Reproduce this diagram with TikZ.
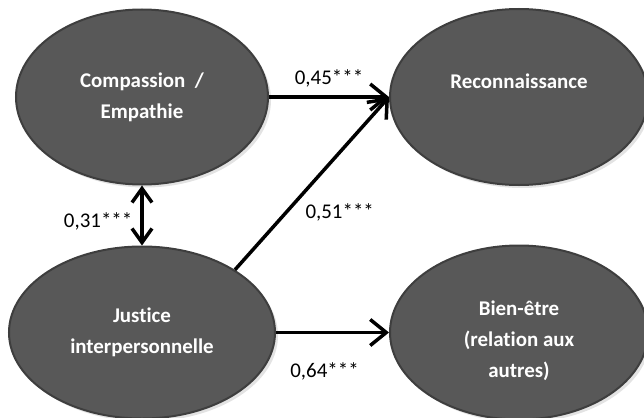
\documentclass[tikz,border=0pt]{standalone}
\usepackage{fontspec}
\setmainfont{Carlito}[Ligatures=NoCommon]
\usetikzlibrary{positioning,shapes.geometric,arrows.meta,shadows}
\definecolor{ovalgray}{RGB}{88,88,88}
\definecolor{ovaledge}{RGB}{62,62,62}
\tikzstyle{oval} = [ellipse,draw=ovaledge,line width=2bp,fill=ovalgray,text=white,align=center,inner sep=0pt,
  font=\fontsize{21}{31}\selectfont\bfseries,drop shadow={shadow xshift=3bp,shadow yshift=-3bp,opacity=.22}]
\tikzstyle{line} = [draw,line width=3.5bp,-{Straight Barb[length=16bp,width=26bp]}]
\tikzstyle{dline} = [draw,line width=3.5bp,{Straight Barb[length=14bp,width=20bp]}-{Straight Barb[length=14bp,width=20bp]}]
\tikzstyle{coef} = [font=\fontsize{21}{24}\selectfont,inner sep=2bp]
\begin{document}
\begin{tikzpicture}[x=1bp,y=1bp]
            \useasboundingbox (0,0) rectangle (644,417);
            \node[oval,minimum width=252bp,minimum height=175bp] (comp) at (142,320) {Compassion\ \ /\\Empathie};
            \node[oval,minimum width=258bp,minimum height=176bp,right=120bp of comp] (reco) {Reconnaissance\\~};
            \node[oval,minimum width=266bp,minimum height=172bp,below=60bp of comp] (just) {Justice\\interpersonnelle};
            \node[oval,minimum width=258bp,minimum height=174bp,right=113bp of just] (bien) {~\\Bien-être\\(relation aux\\autres)};
            \path[line] (comp) -- node[coef,above=6bp] {0,45***} (reco);
            \path[line] (just.34) -- node[coef,pos=0.33,right=16bp] {0,51***} (reco.west);
            \path[line] (just) -- node[coef,below=26bp,xshift=-8bp] {0,64***} (bien);
            \path[dline] (comp) -- node[coef,left=6bp,yshift=-6bp] {0,31***} (just);
        \end{tikzpicture}
\end{document}
